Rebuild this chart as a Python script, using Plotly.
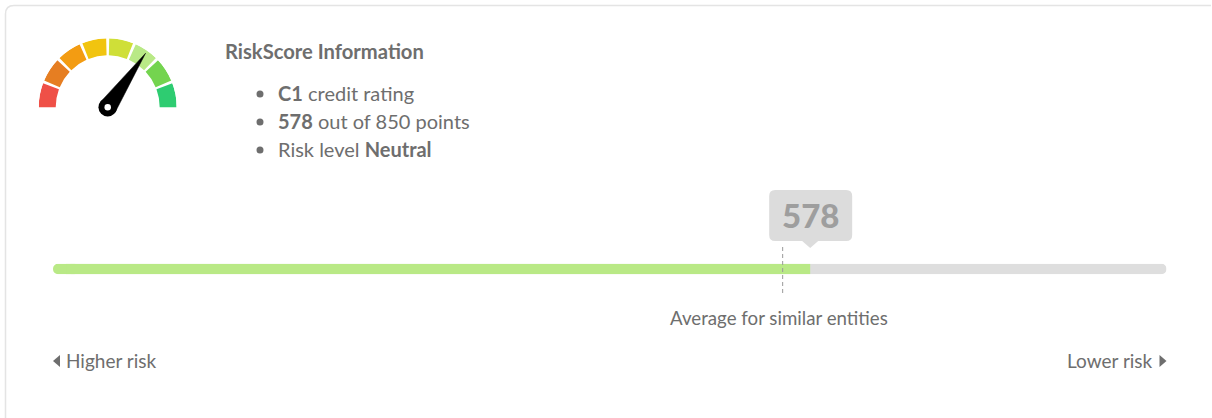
import plotly.graph_objects as go

W, H = 1212, 418
SCORE = 578
MAX_SCORE = 850
AVERAGE = 557
NEEDLE_ANGLE = 55
gauge_colors = ["#EF5047", "#E67E22", "#F39C12", "#F1C40F", "#CFDF38", "#B9E986", "#74D44F", "#2ECC71"]
info_lines = ["<b>C1</b> credit rating", "<b>578</b> out of 850 points", "Risk level <b>Neutral</b>"]
title_text = "RiskScore Information"
average_label = "Average for similar entities"
left_label = "Higher risk"
right_label = "Lower risk"

FONT = "Lato, 'Open Sans', sans-serif"
TEXT = "#6e6e6e"


def px(x):
    return x / W


def py(y):
    return 1 - y / H


fig = go.Figure()

# progress bar: plotly rounds only the far end of a bar, so the left cap is a bar drawn leftwards
CAP = 20
GREEN = "#B9E986"
fig.add_trace(go.Bar(x=[MAX_SCORE - CAP / 2], base=[CAP / 2], y=[0], orientation="h", width=1,
                     marker=dict(color="#DEDEDE", cornerradius=5, line_width=0)))
fig.add_trace(go.Bar(x=[-CAP], base=[CAP], y=[0], orientation="h", width=1,
                     marker=dict(color=GREEN, cornerradius=5, line_width=0)))
fig.add_trace(go.Bar(x=[SCORE - CAP / 2], base=[CAP / 2], y=[0], orientation="h", width=1,
                     marker=dict(color=GREEN, line_width=0)))

# gauge
n = len(gauge_colors)
SEG = 20.3
pitch = (180 - SEG) / (n - 1)
R_OUT, R_IN = 69, 52
fig.add_trace(go.Barpolar(
    r=[R_OUT - R_IN] * n,
    base=[R_IN] * n,
    theta=[180 - SEG / 2 - pitch * i for i in range(n)],
    width=[SEG] * n,
    marker=dict(color=gauge_colors, line_width=0),
    subplot="polar",
))
fig.add_trace(go.Scatterpolar(
    r=[9, 66, 9, 9],
    theta=[NEEDLE_ANGLE + 90, NEEDLE_ANGLE, NEEDLE_ANGLE - 90, NEEDLE_ANGLE + 90],
    mode="lines", fill="toself", fillcolor="#000000", line=dict(color="#000000", width=0.5),
    subplot="polar",
))
fig.add_trace(go.Scatterpolar(
    r=[0, 0], theta=[0, 0], mode="markers",
    marker=dict(size=[18.5, 6.5], color=["#000000", "#FFFFFF"], line_width=0, opacity=1),
    subplot="polar",
))

shapes = [
    # card border
    dict(type="path", xref="paper", yref="paper", layer="below",
         path=f"M {px(5.5)} {py(H+5)} L {px(5.5)} {py(14)} Q {px(5.5)} {py(5.5)} {px(14)} {py(5.5)} L {px(W-1)} {py(5.5)}",
         line=dict(color="#E4E4E4", width=1.5)),
    # score callout
    dict(type="path", xref="x", yref="paper", xsizemode="pixel", xanchor=SCORE,
         ysizemode="pixel", yanchor=py(241),
         path="M -35 51 Q -41 51 -41 45 L -41 6 Q -41 0 -35 0 L -8 0 L 0 -7 L 8 0 L 36 0 Q 42 0 42 6 L 42 45 Q 42 51 36 51 Z",
         fillcolor="#DCDCDC", line_width=0),
    # average marker
    dict(type="line", xref="x", yref="paper", x0=AVERAGE, x1=AVERAGE, y0=py(247), y1=py(296),
         line=dict(color="#9A9A9A", width=1, dash="4px,3px")),
    # direction arrows
    dict(type="path", xref="paper", yref="paper",
         path=f"M {px(60)} {py(355)} L {px(53)} {py(361)} L {px(60)} {py(367)} Z",
         fillcolor=TEXT, line_width=0),
    dict(type="path", xref="paper", yref="paper",
         path=f"M {px(1159.5)} {py(355)} L {px(1166.5)} {py(361)} L {px(1159.5)} {py(367)} Z",
         fillcolor=TEXT, line_width=0),
]
for yy in (94, 122, 150):
    shapes.append(dict(type="circle", xref="paper", yref="paper",
                       x0=px(256.5), x1=px(263.5), y0=py(yy + 3.5), y1=py(yy - 3.5),
                       fillcolor=TEXT, line_width=0))


def note(text, x, y, size=20, xanchor="left", color=TEXT, xref="paper", weight=None):
    font = dict(family=FONT, size=size, color=color)
    if weight:
        font["weight"] = weight
    return dict(text=text, x=x, y=py(y), xref=xref, yref="paper", xanchor=xanchor, yanchor="middle",
                showarrow=False, font=font)


annotations = [
    note(f"<b>{title_text}</b>", px(223), 51, 20.2),
    note(average_label, px(779), 318, 18.7, "center"),
    note(left_label, px(64), 360, 19),
    note(right_label, px(1155), 360, 19, "right"),
    note(str(SCORE), SCORE, 215, 33, "center", "#9E9E9E", "x", 900),
]
for line, yy in zip(info_lines, (93, 121, 149)):
    annotations.append(note(line, px(276), yy, 20))

cx, cy = 107.7, 107.3
fig.update_layout(
    width=W, height=H,
    margin=dict(l=0, r=0, t=0, b=0, pad=0),
    paper_bgcolor="#FFFFFF", plot_bgcolor="rgba(0,0,0,0)",
    showlegend=False, barmode="overlay", hovermode=False,
    xaxis=dict(domain=[px(53), px(1166.5)], range=[0, MAX_SCORE], visible=False, fixedrange=True),
    yaxis=dict(domain=[py(274.3), py(263.7)], range=[-0.5, 0.5], visible=False, fixedrange=True),
    polar=dict(
        domain=dict(x=[px(cx - R_OUT), px(cx + R_OUT)], y=[py(cy + R_OUT), py(cy - R_OUT)]),
        bgcolor="rgba(0,0,0,0)",
        radialaxis=dict(visible=False, range=[0, R_OUT]),
        angularaxis=dict(visible=False),
    ),
    shapes=shapes,
    annotations=annotations,
)

fig.write_html("out.html", config=dict(displayModeBar=False, staticPlot=True),
               post_script="document.body.style.margin='0';")
